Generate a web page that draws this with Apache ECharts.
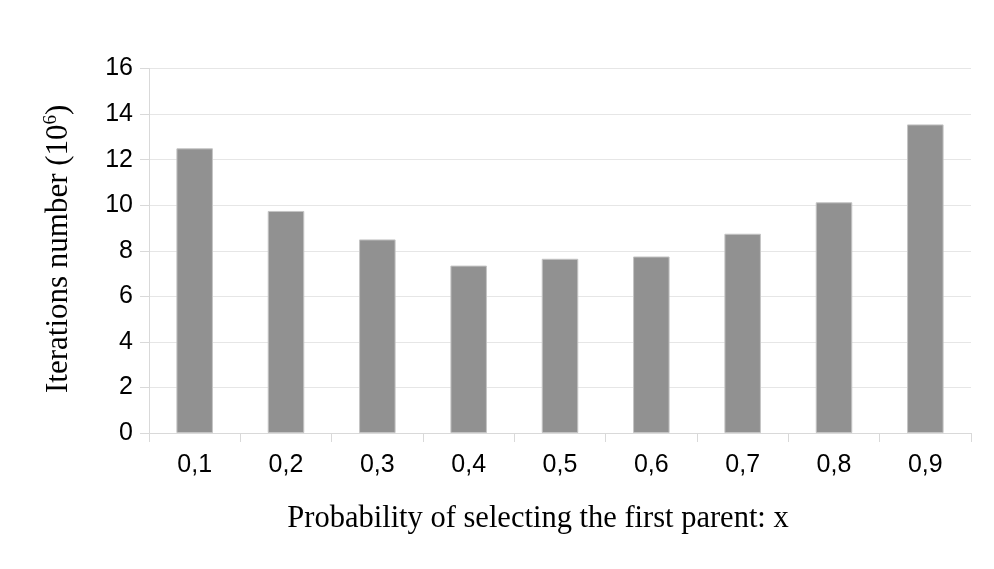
<!DOCTYPE html>
<html><head><meta charset="utf-8">
<script src="https://cdn.jsdelivr.net/npm/echarts@6/dist/echarts.min.js"></script>
<style>html,body{margin:0;padding:0;background:#fff}#c{width:994px;height:569px}</style>
</head><body><div id="c"></div>
<script>
const categories = ['0,1','0,2','0,3','0,4','0,5','0,6','0,7','0,8','0,9'];
const iterations = [12.5, 9.75, 8.5, 7.35, 7.65, 7.75, 8.75, 10.13, 13.55];
const yTicks = [0, 2, 4, 6, 8, 10, 12, 14, 16];

const chart = echarts.init(document.getElementById('c'), null, {renderer: 'canvas'});
chart.setOption({
  animation: false,
  backgroundColor: '#ffffff',
  grid: {left: 149, right: 23, top: 68.6, bottom: 136, containLabel: false},
  xAxis: {
    type: 'category',
    data: categories,
    name: 'Probability of selecting the first parent: x',
    nameLocation: 'middle',
    nameGap: 70,
    nameTextStyle: {fontFamily: 'Liberation Serif', fontSize: 30.5, color: '#000', padding: [0, 44, 0, 0]},
    axisLine: {lineStyle: {color: '#d9d9d9', width: 1}},
    axisTick: {show: true, length: 9, lineStyle: {color: '#d9d9d9'}, alignWithLabel: false},
    axisLabel: {fontFamily: 'Liberation Sans', fontSize: 25, color: '#000', margin: 20}
  },
  yAxis: {
    type: 'value',
    min: yTicks[0], max: yTicks[yTicks.length - 1], interval: 2,
    name: '{a|Iterations number (10}{s|6}{a|)}',
    nameLocation: 'middle',
    nameRotate: 90,
    nameGap: 74,
    nameTextStyle: {
      padding: [0, 0, 0, 4],
      rich: {
        a: {fontFamily: 'Liberation Serif', fontSize: 31, color: '#000'},
        s: {fontFamily: 'Liberation Serif', fontSize: 19, color: '#000', padding: [0, 0, 14, 0]}
      }
    },
    axisLine: {show: true, lineStyle: {color: '#d9d9d9', width: 1}},
    axisTick: {show: true, length: 9, lineStyle: {color: '#d9d9d9'}},
    splitLine: {show: true, lineStyle: {color: '#e6e6e6', width: 1}},
    axisLabel: {fontFamily: 'Liberation Sans', fontSize: 25, color: '#000', margin: 16}
  },
  series: [{
    type: 'bar',
    data: iterations,
    barWidth: '40%',
    itemStyle: {color: '#919191', borderColor: '#c4c4c4', borderWidth: 1}
  }]
});
</script></body></html>
